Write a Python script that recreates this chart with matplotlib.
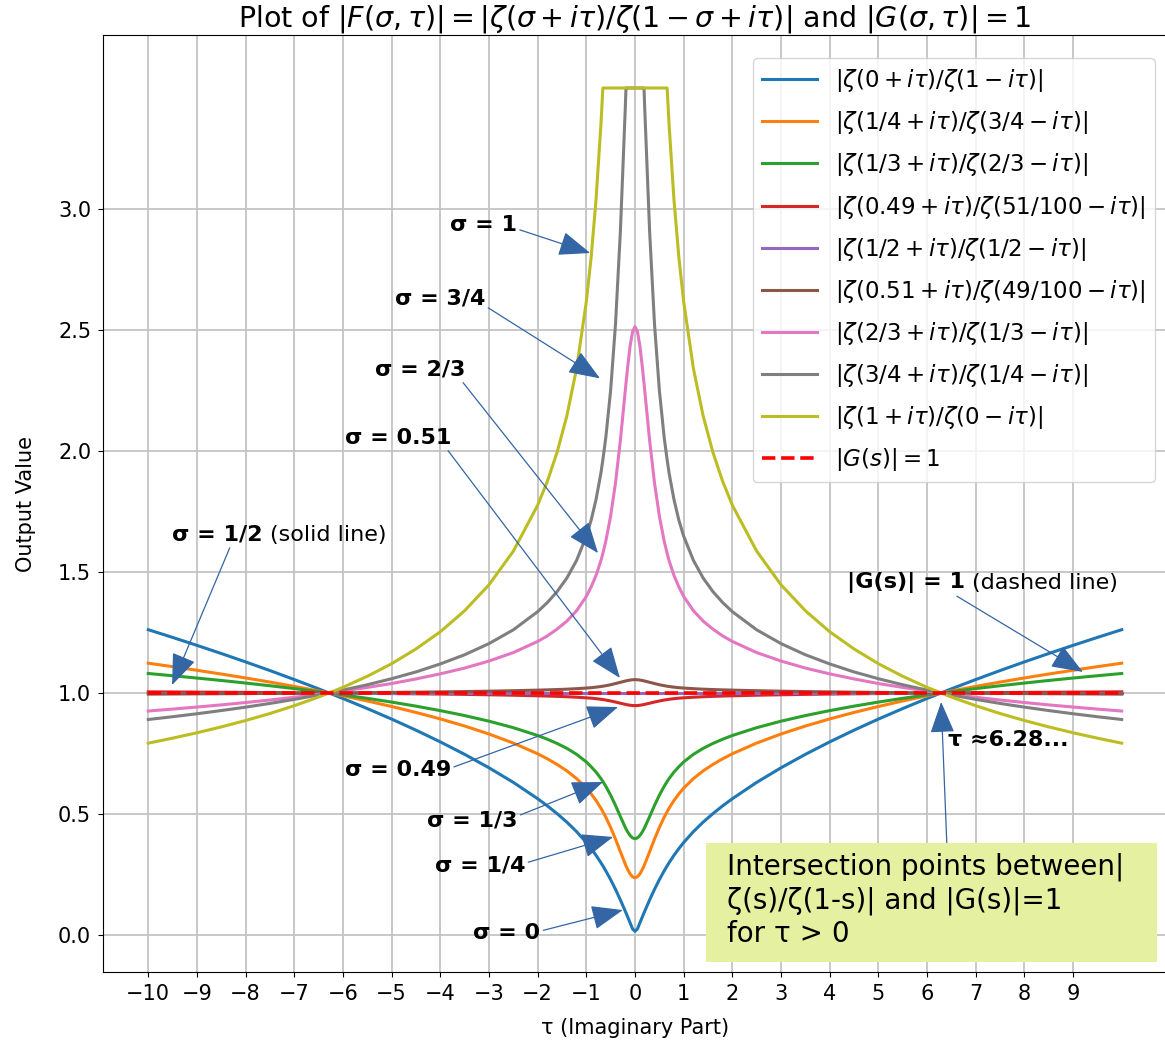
import matplotlib.pyplot as plt
import numpy as np

# tau >= 0 half of the grid; the chart is symmetric in tau
tau_half = [0, 0.05, 0.1, 0.15, 0.185, 0.2, 0.3, 0.4, 0.5, 0.6, 0.66, 0.7, 0.8, 0.9, 1.0,
            1.2, 1.4, 1.6, 1.8, 2.0, 2.5, 3.0, 3.5, 4.0, 4.5, 5.0, 5.5, 6.0, 6.5, 7.0,
            7.5, 8.0, 8.5, 9.0, 9.5, 10.0]

sig_0 = [0.015, 0.025, 0.0498, 0.0743, 0.0913, 0.0984, 0.1448, 0.1883, 0.2285, 0.2652,
         0.2856, 0.2986, 0.3290, 0.3567, 0.3821, 0.4271, 0.4663, 0.5013, 0.5334, 0.5631,
         0.6306, 0.6909, 0.7464, 0.7979, 0.8463, 0.8921, 0.9356, 0.9772, 1.0171, 1.0555,
         1.0926, 1.1284, 1.1631, 1.1968, 1.2296, 1.2616]
sig_1_4 = [0.2362, 0.2404, 0.2523, 0.2705, 0.2854, 0.2928, 0.3438, 0.3959, 0.4441, 0.4867,
           0.5093, 0.5237, 0.5556, 0.5830, 0.6067, 0.6462, 0.6781, 0.7046, 0.7279, 0.7487,
           0.7930, 0.8305, 0.8634, 0.8928, 0.9196, 0.9442, 0.9670, 0.9884, 1.0083, 1.0272,
           1.0451, 1.0621, 1.0783, 1.0938, 1.1088, 1.1231]
sig_1_3 = [0.3977, 0.4011, 0.4107, 0.4258, 0.4385, 0.4447, 0.4891, 0.5351, 0.5774, 0.6145,
           0.6340, 0.6464, 0.673, 0.695, 0.715, 0.7465, 0.7712, 0.7914, 0.8089, 0.8243,
           0.8566, 0.8835, 0.9066, 0.9271, 0.9456, 0.9624, 0.9779, 0.9921, 1.0055, 1.0181,
           1.0299, 1.0410, 1.0517, 1.0617, 1.0713, 1.0805]
sig_049 = [0.9477, 0.9481, 0.9493, 0.9509, 0.9524, 0.9531, 0.9577, 0.9625, 0.9670, 0.9708,
           0.9728, 0.9740, 0.9765, 0.9786, 0.9800, 0.9825, 0.9845, 0.9860, 0.9873, 0.9883,
           0.9907, 0.9926, 0.9942, 0.9955, 0.9966, 0.9977, 0.9986, 0.9995, 1.0003, 1.0010,
           1.0017, 1.0024, 1.0030, 1.0036, 1.0042, 1.0047]
sig_1_2 = [1.0] * len(tau_half)
sig_051 = [1.0552, 1.0547, 1.0534, 1.0516, 1.0500, 1.0492, 1.0442, 1.0390, 1.0341, 1.0301,
           1.0280, 1.0267, 1.0241, 1.0219, 1.0204, 1.0178, 1.0157, 1.0142, 1.0129, 1.0118,
           1.0094, 1.0075, 1.0058, 1.0045, 1.0034, 1.0023, 1.0014, 1.0005, 0.9997, 0.9990,
           0.9983, 0.9976, 0.9970, 0.9964, 0.9958, 0.9953]
sig_2_3 = [2.514, 2.493, 2.435, 2.348, 2.280, 2.249, 2.045, 1.869, 1.732, 1.627,
           1.577, 1.547, 1.486, 1.439, 1.399, 1.340, 1.297, 1.264, 1.236, 1.213,
           1.167, 1.132, 1.103, 1.079, 1.058, 1.039, 1.023, 1.008, 0.9945, 0.9822,
           0.9710, 0.9606, 0.9508, 0.9419, 0.9334, 0.9255]
sig_3_4 = [3.5, 3.5, 3.5, 3.5, 3.5, 3.415, 2.909, 2.526, 2.252, 2.055,
           1.964, 1.909, 1.800, 1.715, 1.648, 1.548, 1.475, 1.419, 1.374, 1.336,
           1.261, 1.204, 1.158, 1.120, 1.087, 1.059, 1.034, 1.012, 0.9918, 0.9735,
           0.9568, 0.9415, 0.9274, 0.9142, 0.9019, 0.8904]
sig_1 = [3.5, 3.5, 3.5, 3.5, 3.5, 3.5, 3.5, 3.5, 3.5, 3.5,
         3.5, 3.349, 3.040, 2.803, 2.617, 2.341, 2.145, 1.995, 1.875, 1.776,
         1.586, 1.447, 1.340, 1.253, 1.182, 1.121, 1.069, 1.0233, 0.9832, 0.9474,
         0.9152, 0.8862, 0.8598, 0.8356, 0.8133, 0.7926]

labels = [r'$|\zeta(0 + i\tau)/\zeta(1 - i\tau)|$',
          r'$|\zeta(1/4 + i\tau)/\zeta(3/4 - i\tau)|$',
          r'$|\zeta(1/3 + i\tau)/\zeta(2/3 - i\tau)|$',
          r'$|\zeta(0.49 + i\tau)/\zeta(51/100 - i\tau)|$',
          r'$|\zeta(1/2 + i\tau)/\zeta(1/2 - i\tau)|$',
          r'$|\zeta(0.51 + i\tau)/\zeta(49/100 - i\tau)|$',
          r'$|\zeta(2/3 + i\tau)/\zeta(1/3 - i\tau)|$',
          r'$|\zeta(3/4 + i\tau)/\zeta(1/4 - i\tau)|$',
          r'$|\zeta(1 + i\tau)/\zeta(0 - i\tau)|$']
series = [sig_0, sig_1_4, sig_1_3, sig_049, sig_1_2, sig_051, sig_2_3, sig_3_4, sig_1]


def mirror(v, neg=False):
    v = np.asarray(v, dtype=float)
    left = -v[:0:-1] if neg else v[:0:-1]
    return np.concatenate([left, v])


tau = mirror(tau_half, neg=True)

W, H = 1165, 1050
fig = plt.figure(figsize=(W / 100, H / 100), dpi=100)
ax = fig.add_axes([103 / W, 78 / H, 1064 / W, 937 / H])

for vals, lab in zip(series, labels):
    ax.plot(tau, mirror(vals), lw=2.2, label=lab)
ax.plot(tau, np.ones_like(tau), 'r--', lw=2.6, label=r'$|G(s)| = 1$')

ax.set_xlim(-10.93, 10.93)
ax.set_ylim(-0.153, 3.719)
ax.set_xticks(range(-10, 10))
ax.set_yticks(np.arange(0, 3.01, 0.5))
ax.tick_params(labelsize=15, pad=5)
ax.grid(True, color='#c4c4c4', lw=1.3)
ax.set_title(r'Plot of $|F(\sigma, \tau)| = |\zeta(\sigma + i\tau)/\zeta(1 - \sigma + i\tau)|$'
             r' and $|G(\sigma, \tau)| = 1$', fontsize=20.5)
ax.set_xlabel('τ (Imaginary Part)', fontsize=15, labelpad=10)
ax.set_ylabel('Output Value', fontsize=15, labelpad=16)
ax.legend(loc='upper right', bbox_to_anchor=(1155 / W, 1 - 58 / H),
          bbox_transform=fig.transFigure, borderaxespad=0, fontsize=16.5,
          handlelength=2.4, handletextpad=0.8, labelspacing=0.66)

# annotations
acol = '#3465a4'
arr = dict(arrowstyle='-|>,head_length=0.9,head_width=0.35', color=acol, lw=0.9,
           mutation_scale=22, shrinkA=0, shrinkB=0)
notes = [
    ('σ = 1', (-3.80, 2.934), (-0.92, 2.818), (1.0, 0.3)),
    ('σ = 3/4', (-4.93, 2.632), (-0.72, 2.30), (1.0, 0.1)),
    ('σ = 2/3', (-5.34, 2.335), (-0.76, 1.578), (0.95, 0.0)),
    ('σ = 0.51', (-5.96, 2.054), (-0.31, 1.062), (0.95, 0.0)),
    ('σ = 0.49', (-5.96, 0.682), (-0.35, 0.942), (1.0, 0.6)),
    ('σ = 1/3', (-4.27, 0.475), (-0.66, 0.632), (1.0, 0.7)),
    ('σ = 1/4', (-4.11, 0.289), (-0.45, 0.405), (1.0, 0.6)),
    ('σ = 0', (-3.32, 0.008), (-0.25, 0.103), (1.0, 0.6)),
]
for txt, xyt, xy, rp in notes:
    ax.annotate(txt, xy=xy, xytext=xyt, ha='left', va='center', fontsize=16,
                fontweight='bold', arrowprops=dict(arr, relpos=rp))

ax.annotate('σ = 1/2', xy=(-9.51, 1.033), xytext=(-9.51, 1.653), ha='left', va='center',
            fontsize=16, fontweight='bold', arrowprops=dict(arr, relpos=(0.65, 0.0)))
ax.text(-7.50, 1.653, '(solid line)', ha='left', va='center', fontsize=16)

ax.annotate('|G(s)| = 1', xy=(9.20, 1.087), xytext=(4.36, 1.455), ha='left', va='center',
            fontsize=16, fontweight='bold', arrowprops=dict(arr, relpos=(0.89, 0.0)))
ax.text(6.93, 1.455, '(dashed line)', ha='left', va='center', fontsize=16)

ax.text(6.43, 0.805, 'τ ≈6.28...', ha='left', va='center', fontsize=16, fontweight='bold')
ax.annotate('', xy=(6.29, 0.963), xytext=(6.41, 0.36), arrowprops=arr)

box = plt.Rectangle((1.459, -0.112), 9.26, 0.492, facecolor='#e5f0a0', edgecolor='none',
                    zorder=5, clip_on=False)
ax.add_patch(box)
ax.text(1.89, 0.339, 'Intersection points between|\nζ(s)/ζ(1-s)| and |G(s)|=1\nfor τ > 0',
        ha='left', va='top', fontsize=20, zorder=6, linespacing=1.22)

fig.savefig('out.png', dpi=100)
